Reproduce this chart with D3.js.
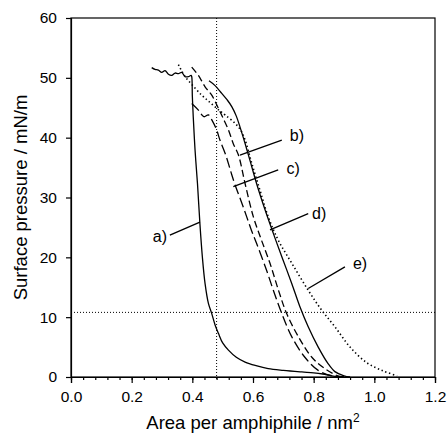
<!DOCTYPE html>
<html><head><meta charset="utf-8">
<script src="https://cdn.jsdelivr.net/npm/d3@7"></script>
<style>body{margin:0;background:#fff}</style>
</head><body><svg id="c" width="447" height="442"></svg>
<script>
// ---- data (area per amphiphile nm^2, surface pressure mN/m) ----
const aX = [0.266,0.277,0.288,0.299,0.310,0.321,0.332,0.343,0.354,0.365,0.376,0.387,0.396,0.398,0.400,0.403,0.409,0.417,0.425,0.433,0.442,0.453,0.464,0.475,0.486,0.500,0.519,0.545,0.574,0.610,0.650,0.700,0.761,0.800,0.830,0.850,0.870,0.900];
const aY = [51.7,51.4,51.3,50.9,51.2,50.6,50.4,50.8,50.7,50.9,50.2,50.2,50.4,50.2,47.0,43.5,37.9,32.3,25.6,20.1,15.6,12.3,10.6,8.7,7.3,5.7,4.5,3.3,2.5,1.9,1.4,1.1,0.84,0.7,0.5,0.3,0.1,0.0];
const bX = [0.398,0.420,0.442,0.464,0.486,0.502,0.519,0.535,0.552,0.574,0.601,0.627,0.656,0.684,0.711,0.750,0.794,0.837,0.880,0.910];
const bY = [51.8,50.4,48.5,47.1,44.9,43.2,41.3,39.0,37.1,32.3,26.8,23.0,19.0,14.5,10.6,6.7,3.3,1.4,0.2,0.0];
const cX = [0.398,0.420,0.438,0.453,0.466,0.480,0.491,0.508,0.520,0.530,0.541,0.560,0.579,0.595,0.612,0.645,0.667,0.695,0.728,0.771,0.815,0.860,0.900];
const cY = [45.7,44.6,43.5,43.8,42.8,41.3,39.6,37.4,35.5,33.8,32.1,29.5,26.8,24.5,22.3,17.8,14.5,10.6,6.7,3.3,1.1,0.2,0.0];
const dX = [0.455,0.475,0.497,0.515,0.530,0.545,0.557,0.574,0.590,0.612,0.640,0.667,0.695,0.728,0.755,0.782,0.815,0.848,0.870,0.900,0.920];
const dY = [49.5,48.7,47.4,46.3,45.2,43.6,41.8,39.0,36.2,32.3,27.9,24.0,20.1,15.6,11.7,8.4,5.0,2.2,0.9,0.2,0.0];
const eX = [0.354,0.375,0.405,0.431,0.449,0.469,0.490,0.508,0.541,0.560,0.574,0.596,0.623,0.650,0.683,0.728,0.782,0.826,0.870,0.920,0.975,1.030,1.075];
const eY = [52.2,50.3,48.5,47.1,46.3,45.4,44.5,43.8,42.4,41.2,39.6,35.7,31.2,26.8,22.9,19.0,14.5,11.2,8.4,5.0,2.4,1.0,0.2];

const xTicks = [0,0.2,0.4,0.6,0.8,1.0,1.2];
const yTicks = [0,10,20,30,40,50,60];
const refX = 0.48, refY = 10.8;

// annotations: label, text position, pointer start, pointer end (data units)
const labels = ["a)","b)","c)","d)","e)"];
const labelPos = [[0.293,23.4],[0.745,40.3],[0.732,34.8],[0.818,27.3],[0.953,18.9]];
const pointerFrom = [[0.326,23.7],[0.695,39.6],[0.683,34.6],[0.782,27.3],[0.903,18.4]];
const pointerTo = [[0.425,25.9],[0.557,37.1],[0.535,31.8],[0.656,24.6],[0.782,14.8]];

// ---- drawing ----
const svg = d3.select("#c");
svg.append("rect").attr("width",447).attr("height",442).attr("fill","#fff");
const L = 71, T = 18, R = 435, B = 377;
const x = d3.scaleLinear().domain([0,1.2]).range([L,R]);
const y = d3.scaleLinear().domain([0,60]).range([B,T]);
const font = "'Liberation Sans', Arial, sans-serif";

// frame
svg.append("rect").attr("x",L).attr("y",T).attr("width",R-L).attr("height",B-T)
  .attr("fill","none").attr("stroke","#000").attr("stroke-width",1.2);

// reference dotted lines
svg.append("line").attr("x1",x(refX)).attr("x2",x(refX)).attr("y1",y(60)).attr("y2",y(0)+3)
  .attr("stroke","#000").attr("stroke-width",1).attr("stroke-dasharray","1,2");
svg.append("line").attr("x1",x(0)).attr("x2",x(1.2)).attr("y1",y(refY)).attr("y2",y(refY))
  .attr("stroke","#000").attr("stroke-width",1).attr("stroke-dasharray","1,2");

// axes
const xAxis = d3.axisBottom(x).tickValues(xTicks).tickFormat(d3.format(".1f")).tickSize(6).tickPadding(8);
const gx = svg.append("g").attr("transform",`translate(0,${B})`).call(xAxis);
const xMinor = d3.axisBottom(x).tickValues(d3.range(0,1.2001,0.04)).tickFormat("").tickSize(3);
svg.append("g").attr("transform",`translate(0,${B})`).call(xMinor).select(".domain").remove();
const yAxis = d3.axisLeft(y).tickValues(yTicks).tickFormat(d3.format("d")).tickSize(5).tickPadding(9);
const gy = svg.append("g").attr("transform",`translate(${L},0)`).call(yAxis);
svg.selectAll(".tick text").attr("font-family",font).attr("font-size",15.5).attr("fill","#000");
svg.selectAll(".domain, .tick line").attr("stroke","#000").attr("stroke-width",1.2);

// curves
const line = d3.line().x(d=>x(d[0])).y(d=>y(d[1])).curve(d3.curveMonotoneY);
const lineP = d3.line().x(d=>x(d[0])).y(d=>y(d[1])).curve(d3.curveLinear);
const series = [
  {xs:aX, ys:aY, dash:null, gen:lineP},
  {xs:bX, ys:bY, dash:"7,3.5", gen:lineP},
  {xs:cX, ys:cY, dash:"10,4", gen:lineP},
  {xs:dX, ys:dY, dash:null, gen:lineP},
  {xs:eX, ys:eY, dash:"1.4,2.6", gen:lineP}
];
const smooth = d3.line().x(d=>x(d[0])).y(d=>y(d[1])).curve(d3.curveCatmullRom.alpha(0.5));
series.forEach(s=>{
  const pts = s.xs.map((v,i)=>[v,s.ys[i]]);
  svg.append("path").attr("d",smooth(pts)).attr("fill","none").attr("stroke","#000")
    .attr("stroke-width",s.dash && s.dash.startsWith("1.4")?1.6:1.3)
    .attr("stroke-dasharray",s.dash);
});

// annotations
labels.forEach((t,i)=>{
  svg.append("line").attr("x1",x(pointerFrom[i][0])).attr("y1",y(pointerFrom[i][1]))
    .attr("x2",x(pointerTo[i][0])).attr("y2",y(pointerTo[i][1]))
    .attr("stroke","#000").attr("stroke-width",1.3);
  svg.append("text").attr("x",x(labelPos[i][0])).attr("y",y(labelPos[i][1]))
    .attr("text-anchor","middle").attr("dominant-baseline","central")
    .attr("font-family",font).attr("font-size",16).text(t);
});

// axis titles
svg.append("text").attr("x",(L+R)/2).attr("y",429).attr("text-anchor","middle")
  .attr("font-family",font).attr("font-size",18.5)
  .html('Area per amphiphile / nm<tspan dy="-7" font-size="12">2</tspan>');
svg.append("text").attr("transform",`translate(27,${(T+B)/2}) rotate(-90)`).attr("text-anchor","middle")
  .attr("font-family",font).attr("font-size",18.5).text("Surface pressure / mN/m");
</script></body></html>
